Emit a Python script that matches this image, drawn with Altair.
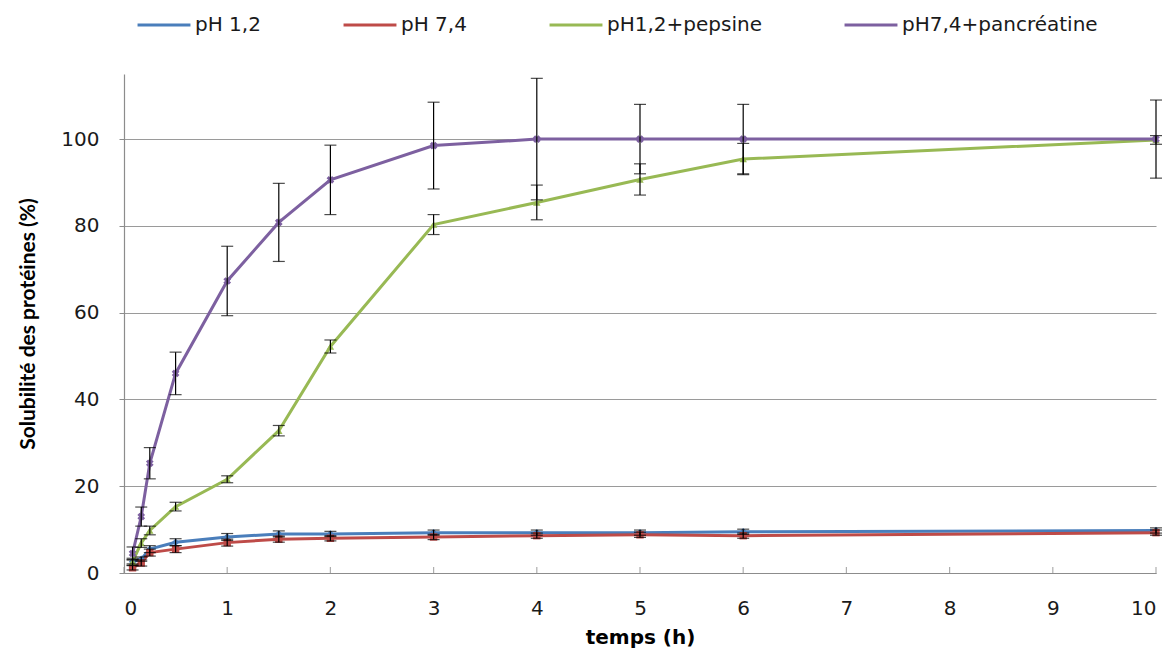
import altair as alt
import pandas as pd

times = [0.083, 0.167, 0.25, 0.5, 1, 1.5, 2, 3, 4, 5, 6, 10]
series_names = ["pH 1,2", "pH 7,4", "pH1,2+pepsine", "pH7,4+pancréatine"]

ph12 = [2.6, 3.2, 5.5, 7.1, 8.3, 9.0, 9.0, 9.3, 9.3, 9.3, 9.5, 9.8]
ph74 = [1.2, 2.3, 4.7, 5.5, 7.0, 7.8, 8.0, 8.3, 8.6, 8.8, 8.6, 9.3]
pepsine = [2.6, 6.9, 9.8, 15.3, 21.6, 32.8, 52.2, 80.3, 85.4, 90.7, 95.4, 99.8]
pancreatine = [4.5, 13.0, 25.3, 46.0, 67.3, 80.8, 90.6, 98.5, 100, 100, 100, 100]

err_ph12 = [0.5, 0.5, 0.8, 0.8, 0.8, 0.7, 0.6, 0.6, 0.6, 0.6, 0.6, 0.6]
err_ph74 = [0.5, 0.7, 0.8, 0.8, 0.8, 0.7, 0.6, 0.6, 0.6, 0.6, 0.6, 0.6]
err_pepsine = [0.8, 1.0, 1.0, 1.0, 0.8, 1.2, 1.5, 2.3, 4.0, 3.6, 3.6, 1.0]
err_pancreatine = [1.5, 2.2, 3.6, 4.9, 8.0, 9.0, 8.0, 10.0, 14.0, 8.0, 8.0, 9.0]

x_ticks = [0, 1, 2, 3, 4, 5, 6, 7, 8, 9, 10]
y_ticks = [0, 20, 40, 60, 80, 100]

colors = ["#4a7ebb", "#be4b48", "#98b954", "#7d60a0"]

rows = []
for name, vals, errs in zip(series_names, [ph12, ph74, pepsine, pancreatine],
                            [err_ph12, err_ph74, err_pepsine, err_pancreatine]):
    for t, v, e in zip(times, vals, errs):
        rows.append({"series": name, "t": t, "v": v, "e": e})
df = pd.DataFrame(rows)

FONT = "DejaVu Sans"
AXIS_GREY = "#8c8c8c"

xenc = alt.X("t:Q", scale=alt.Scale(domain=[0, 10], nice=False),
             axis=alt.Axis(values=x_ticks, format="d", title="temps (h)", grid=False,
                           ticks=False, tickSize=0, labelPadding=25, titlePadding=9,
                           titleFont=FONT, titleFontSize=20))
yenc = alt.Y("v:Q", scale=alt.Scale(domain=[0, 115], nice=False),
             axis=alt.Axis(values=y_ticks, title="Solubilité des protéines (%)",
                           tickSize=5, labelPadding=20, titlePadding=22,
                           titleFont="Lato", titleFontSize=21))
color = alt.Color("series:N", scale=alt.Scale(domain=series_names, range=colors),
                  sort=series_names,
                  legend=alt.Legend(title=None, orient="none", direction="horizontal",
                                    legendX=12, legendY=-77, symbolType="stroke",
                                    symbolStrokeWidth=3, symbolSize=2800,
                                    columnPadding=76, labelFontSize=20, labelFont=FONT,
                                    labelColor="#1a1a1a", labelOffset=3, labelLimit=400))

base = alt.Chart(df)

lines = base.mark_line(strokeWidth=3).encode(x=xenc, y=yenc, color=color, order="t:Q")

pts = base.transform_filter(alt.datum.series != "pH7,4+pancréatine").mark_point(
    filled=True, opacity=1, size=55).encode(
    x="t:Q", y="v:Q",
    color=alt.Color("series:N", scale=alt.Scale(domain=series_names, range=colors), legend=None),
    shape=alt.Shape("series:N", scale=alt.Scale(domain=series_names[:3],
                                                range=["diamond", "square", "triangle-up"]),
                    legend=None))

pts_x = base.transform_filter(alt.datum.series == "pH7,4+pancréatine").mark_point(
    filled=True, opacity=1, size=60, shape="cross", angle=45, color=colors[3]).encode(
    x="t:Q", y="v:Q")

eb = base.transform_calculate(lo="datum.v - datum.e", hi="datum.v + datum.e")
err_rule = eb.mark_rule(color="black", strokeWidth=1.2).encode(
    x="t:Q", y="lo:Q", y2="hi:Q")
cap_lo = eb.mark_tick(color="black", orient="horizontal", size=12, thickness=1.2).encode(
    x="t:Q", y="lo:Q")
cap_hi = eb.mark_tick(color="black", orient="horizontal", size=12, thickness=1.2).encode(
    x="t:Q", y="hi:Q")

# inward x-axis tick marks, as in the reference
xt = alt.Chart(pd.DataFrame({"t": x_ticks})).mark_tick(
    orient="vertical", size=6, thickness=1.2, color=AXIS_GREY, yOffset=-3).encode(
    x="t:Q", y=alt.datum(0))

chart = alt.layer(lines, pts, pts_x, err_rule, cap_lo, cap_hi, xt).properties(
    width=1032, height=499,
    autosize=alt.AutoSizeParams(type="none"),
    padding={"left": 116, "top": 66, "right": 10, "bottom": 80},
).configure_view(stroke=None).configure_axis(
    labelFont=FONT, labelFontSize=20, labelColor="#1a1a1a",
    titleFontWeight="bold", titleColor="#000000",
    domainColor=AXIS_GREY, domainWidth=1.2, tickColor=AXIS_GREY,
    gridColor="#9a9a9a", gridWidth=1.2,
)

chart.save("out.html", embed_options={"renderer": "svg", "actions": False})
